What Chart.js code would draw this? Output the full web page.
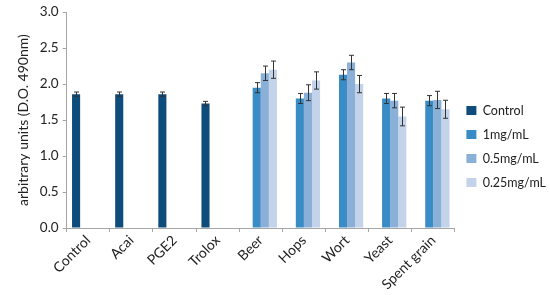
<!DOCTYPE html>
<html>
<head>
<meta charset="utf-8">
<script src="https://cdn.jsdelivr.net/npm/chart.js@4"></script>
<style>
  body { margin: 0; background: #fff; }
  #wrap { width: 550px; height: 295px; position: relative; }
</style>
</head>
<body>
<div id="wrap"><canvas id="barChart"></canvas></div>
<script>
const categories = ["Control", "Acai", "PGE2", "Trolox", "Beer", "Hops", "Wort", "Yeast", "Spent grain"];
const seriesNames = ["Control", "1mg/mL", "0.5mg/mL", "0.25mg/mL"];

const controlValues = [1.86, 1.86, 1.86, 1.73, null, null, null, null, null];
const mg1Values = [null, null, null, null, 1.95, 1.80, 2.13, 1.80, 1.77];
const mg05Values = [null, null, null, null, 2.15, 1.88, 2.30, 1.77, 1.78];
const mg025Values = [null, null, null, null, 2.20, 2.05, 2.00, 1.55, 1.65];

const controlErr = [0.03, 0.03, 0.03, 0.03, null, null, null, null, null];
const mg1Err = [null, null, null, null, 0.07, 0.07, 0.07, 0.07, 0.07];
const mg05Err = [null, null, null, null, 0.10, 0.11, 0.10, 0.10, 0.12];
const mg025Err = [null, null, null, null, 0.12, 0.12, 0.12, 0.13, 0.125];

const colors = ["#0E4C7C", "#3A8CC6", "#8AB0D8", "#C3D3EA"];
const values = [controlValues, mg1Values, mg05Values, mg025Values];
const errors = [controlErr, mg1Err, mg05Err, mg025Err];

// draws the +/- error whiskers on top of each bar
const errorBars = {
  id: "errorBars",
  afterDatasetsDraw(chart) {
    const ctx = chart.ctx;
    const y = chart.scales.y;
    ctx.save();
    ctx.strokeStyle = "#333";
    ctx.lineWidth = 1;
    chart.data.datasets.forEach((ds, i) => {
      const meta = chart.getDatasetMeta(i);
      meta.data.forEach((bar, j) => {
        const v = ds.data[j];
        const e = ds.errors[j];
        if (v == null || e == null) return;
        const x = Math.round(bar.x) + 0.5;
        const top = y.getPixelForValue(v + e);
        const bot = y.getPixelForValue(v - e);
        ctx.beginPath();
        ctx.moveTo(x, top);
        ctx.lineTo(x, bot);
        ctx.moveTo(x - 2.5, top);
        ctx.lineTo(x + 2.5, top);
        ctx.moveTo(x - 2.5, bot);
        ctx.lineTo(x + 2.5, bot);
        ctx.stroke();
      });
    });
    ctx.restore();
  },
};

const ctx = document.getElementById("barChart").getContext("2d");
new Chart(ctx, {
  type: "bar",
  data: {
    labels: categories,
    datasets: seriesNames.map((name, i) => ({
      label: name,
      data: values[i],
      errors: errors[i],
      backgroundColor: colors[i],
      categoryPercentage: 0.75,
      barPercentage: 1.0,
    })),
  },
  options: {
    responsive: true,
    maintainAspectRatio: false,
    animation: false,
    layout: { padding: { top: 0, right: -6, left: 11, bottom: 2 } },
    plugins: {
      legend: {
        position: "right",
        labels: {
          font: { family: "Lato", size: 12.5 },
          color: "#222",
          boxWidth: 10,
          boxHeight: 9,
          padding: 11.5,
        },
      },
      tooltip: { enabled: false },
    },
    scales: {
      x: {
        grid: {
          display: true,
          drawOnChartArea: false,
          drawTicks: true,
          tickLength: 4,
          color: "#A6A6A6",
          offset: true,
        },
        border: { color: "#A6A6A6" },
        ticks: {
          font: { family: "Lato", size: 14 },
          color: "#222",
          maxRotation: 45,
          minRotation: 45,
          padding: 0,
        },
      },
      y: {
        min: 0,
        max: 3,
        grid: {
          display: true,
          drawOnChartArea: false,
          tickLength: 4,
          color: "#A6A6A6",
        },
        border: { color: "#A6A6A6" },
        ticks: {
          stepSize: 0.5,
          font: { family: "Lato", size: 13.5 },
          color: "#222",
          padding: 4,
          callback: (v) => v.toFixed(1),
        },
        title: {
          display: true,
          text: "arbitrary units (D.O. 490nm)",
          font: { family: "Lato", size: 14 },
          color: "#222",
          padding: 4,
        },
      },
    },
  },
  plugins: [errorBars],
});
</script>
</body>
</html>
